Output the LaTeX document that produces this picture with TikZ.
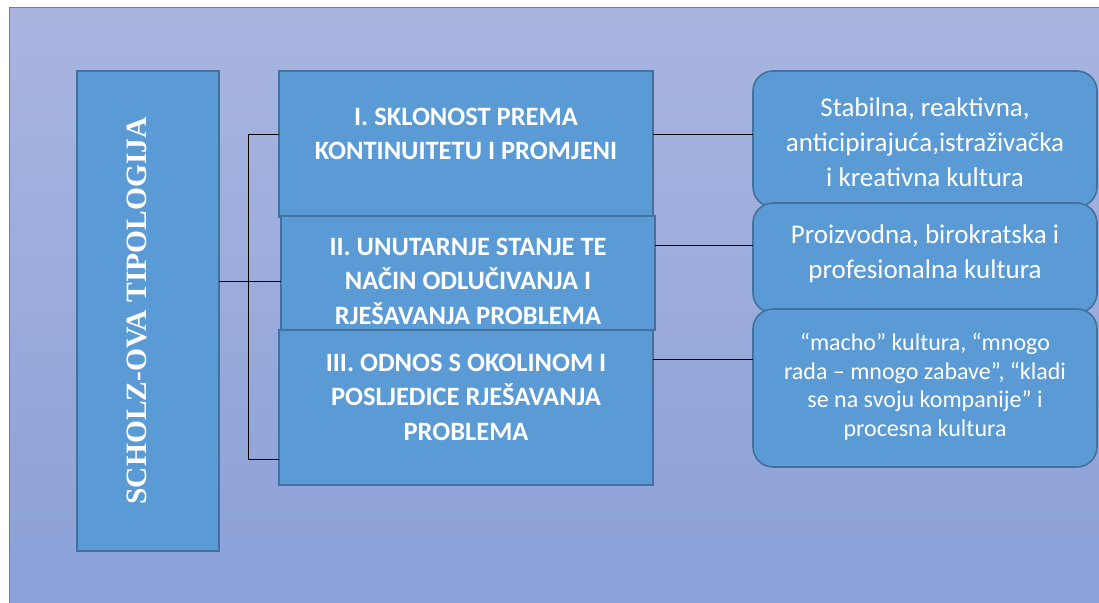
\documentclass[tikz,border=0pt]{standalone}
\usepackage{fontspec}
\setmainfont{Carlito}
\newfontfamily\titlefont{Liberation Serif}
\usetikzlibrary{positioning,calc}
\definecolor{boxblue}{HTML}{5B9BD5}
\definecolor{boxedge}{HTML}{41719C}
\definecolor{bgtop}{HTML}{A9B5DF}
\definecolor{bgbottom}{HTML}{8AA0D8}
\definecolor{frameblue}{HTML}{5B7EC6}
\tikzset{
  cell/.style={rectangle,draw=boxedge,line width=1.6pt,fill=boxblue,
    inner sep=0pt,outer sep=0pt,anchor=north west},
  rcell/.style={cell,rounded corners=20pt},
  crittext/.style={text=white,align=center,font=\fontsize{26.5}{34.5}\selectfont\bfseries},
  notetext/.style={text=white,align=center,font=\fontsize{27}{35}\selectfont},
  conn/.style={black,line width=1pt},
}

\begin{document}
\begin{tikzpicture}[x=1pt,y=-1pt]
\useasboundingbox (0,0) rectangle (1099,602);
\fill[white] (0,0) rectangle (1099,602);

% background panel
\fill[top color=bgtop,bottom color=bgbottom] (9,8) rectangle (1120,620);
\draw[frameblue,line width=1pt] (9,620) -- (9,8) -- (1120,8);

% TITLE (left)
\node[cell,minimum width=142pt,minimum height=480pt] (lb) at (77,71) {};
\node[text=white,rotate=90,font=\titlefont\fontsize{29.5}{29.5}\selectfont\bfseries]
  (title) at (137,311) {SCHOLZ-OVA TIPOLOGIJA};

% CRITERIA (middle)
\node[cell,minimum width=374pt,minimum height=146pt] (b1) at (279,71) {};
\node[crittext] (t1) at (466,134) {I. SKLONOST PREMA\\KONTINUITETU I PROMJENI};
\node[cell,minimum width=374pt,minimum height=114pt] (b2) at (281,216) {};
\node[crittext] (t2) at (468,281) {II. UNUTARNJE STANJE TE\\NAČIN ODLUČIVANJA I\\RJEŠAVANJA PROBLEMA};
\node[cell,minimum width=374pt,minimum height=155pt] (b3) at (279,330) {};
\node[crittext] (t3) at (466,397) {III. ODNOS S OKOLINOM I\\POSLJEDICE RJEŠAVANJA\\PROBLEMA};

% CULTURES (right)
\node[rcell,minimum width=344pt,minimum height=136pt] (ra) at (753,71) {};
\node[notetext] (ta) at (925,142) {Stabilna, reaktivna,\\anticipirajuća,istraživačka\\i kreativna kultura};
\node[rcell,minimum width=344pt,minimum height=110pt] (rb) at (753,203) {};
\node[notetext] (tb) at (925,254) {Proizvodna, birokratska i\\profesionalna kultura};
\node[rcell,minimum width=344pt,minimum height=158pt] (rc) at (753,309) {};
\node[notetext,font=\fontsize{24}{28.5}\selectfont] (tc) at (925,387)
  {“macho” kultura, “mnogo\\rada – mnogo zabave”, “kladi\\se na svoju kompanije” i\\procesna kultura};

% Connectors
\coordinate (j1) at (248,134);
\coordinate (j3) at (248,459);
\coordinate (k2) at (700,245);
\coordinate (k3) at (700,359);
\draw[conn] (lb.east |- t2) -- (b2.west |- t2);
\draw[conn] (b1.west |- j1) -- (j1) -- (j3) -- (b3.west |- j3);
\draw[conn] (b1.east |- j1) -- (ra.west |- j1);
\draw[conn] (b2.east |- k2) -- (rb.west |- k2);
\draw[conn] (b3.east |- k3) -- (rc.west |- k3);
\end{tikzpicture}
\end{document}
